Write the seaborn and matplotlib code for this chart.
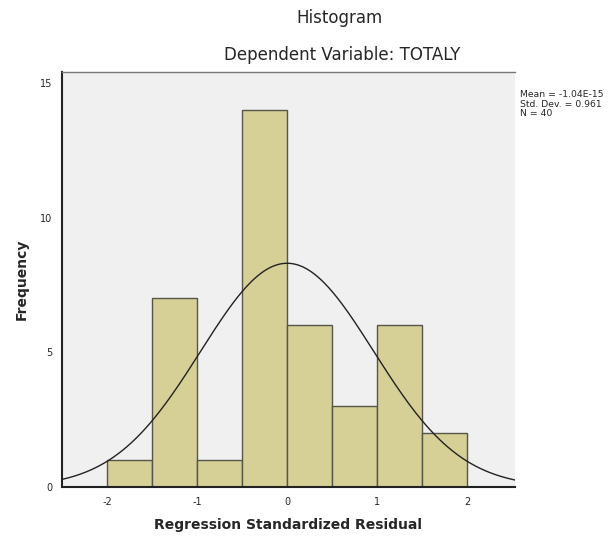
import numpy as np
import pandas as pd
import matplotlib
matplotlib.use("Agg")
import matplotlib.pyplot as plt
import seaborn as sns

# Data
bin_edges = [-2.0, -1.5, -1.0, -0.5, 0.0, 0.5, 1.0, 1.5, 2.0]
counts = [1, 7, 1, 14, 6, 3, 6, 2]
x_ticks = [-2, -1, 0, 1, 2]
y_ticks = [0, 5, 10, 15]
fit_mean = 0.0
fit_sd = 0.961
n_obs = 40
stats_text = "Mean = -1.04E-15\nStd. Dev. = 0.961\nN = 40"

sns.set_style("white")
plt.rcParams['font.family'] = ['DejaVu Sans']

fig = plt.figure(figsize=(6.12, 5.36), dpi=100)
ax = fig.add_axes([62/612, 49/536, 453/612, 415/536])
ax.set_facecolor("#f0f0f0")

centers = [(bin_edges[i] + bin_edges[i+1]) / 2 for i in range(len(counts))]
df = pd.DataFrame({"x": centers, "w": counts})
sns.histplot(data=df, x="x", weights="w", bins=bin_edges, ax=ax,
             color="#d6d096", alpha=1.0, edgecolor="#55554a", linewidth=1.0)

bw = bin_edges[1] - bin_edges[0]
xs = np.linspace(-2.5, 2.53, 300)
ys = n_obs * bw * np.exp(-0.5 * ((xs - fit_mean) / fit_sd) ** 2) / (fit_sd * np.sqrt(2 * np.pi))
sns.lineplot(x=xs, y=ys, ax=ax, color="#222222", linewidth=1.0)

ax.set_xlim(-2.5, 2.53)
ax.set_ylim(0, 15.4)
ax.set_xticks(x_ticks)
ax.set_xticklabels([str(t) for t in x_ticks], fontsize=7)
ax.set_yticks(y_ticks)
ax.set_yticklabels([str(t) for t in y_ticks], fontsize=7)
ax.tick_params(axis="both", direction="out", length=4, width=1, color="#222222", pad=3)
for s in ["left", "bottom", "top"]:
    ax.spines[s].set_visible(True)
    ax.spines[s].set_color("#222222")
    ax.spines[s].set_linewidth(1.5)
ax.spines["top"].set_linewidth(1.0)
ax.spines["top"].set_color("#777777")
ax.spines["right"].set_visible(False)

ax.set_xlabel("Regression Standardized Residual", fontsize=10, fontweight="bold", labelpad=8)
ax.set_ylabel("Frequency", fontsize=10, fontweight="bold", labelpad=8)

fig.text(340/612, 1 - 18/536, "Histogram", ha="center", va="center", fontsize=12)
fig.text(342/612, 1 - 55/536, "Dependent Variable: TOTALY", ha="center", va="center", fontsize=12)
fig.text(520/612, 1 - 90/536, stats_text, ha="left", va="top", fontsize=6.7, linespacing=1.1)

fig.savefig("out.png", dpi=100)
